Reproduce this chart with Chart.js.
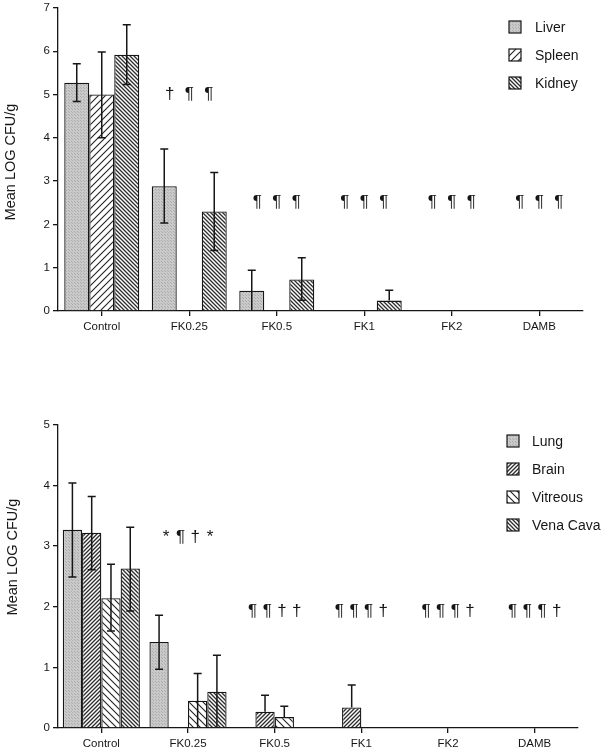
<!DOCTYPE html>
<html>
<head>
<meta charset="utf-8">
<script src="https://cdn.jsdelivr.net/npm/chart.js@4"></script>
<style>
  html, body { margin: 0; padding: 0; background: #fff; }
  body { width: 602px; height: 753px; position: relative; overflow: hidden; }
  canvas { position: absolute; left: 0; }
  #topChart { top: -2px; }
  #bottomChart { top: 415px; }
</style>
</head>
<body>
<canvas id="topChart" width="602" height="344"></canvas>
<canvas id="bottomChart" width="602" height="338"></canvas>
<script>
// categories shared by both panels
const categories = ["Control", "FK0.25", "FK0.5", "FK1", "FK2", "DAMB"];

// upper panel: liver / spleen / kidney
const liver    = [5.27, 2.88, 0.47, 0, 0, 0];
const liverHi  = [5.71, 3.74, 0.94, null, null, null];
const liverLo  = [4.84, 2.03, 0, null, null, null];
const spleen   = [5.00, 0, 0, 0, 0, 0];
const spleenHi = [5.98, null, null, null, null, null];
const spleenLo = [4.00, null, null, null, null, null];
const kidney   = [5.92, 2.30, 0.73, 0.24, 0, 0];
const kidneyHi = [6.61, 3.20, 1.23, 0.48, null, null];
const kidneyLo = [5.23, 1.40, 0.25, null, null, null];

const topMarks = [[], ["†", "¶", "¶"], ["¶", "¶", "¶"], ["¶", "¶", "¶"], ["¶", "¶", "¶"], ["¶", "¶", "¶"]];
const topMarkLevel = [null, 5.0, 2.5, 2.5, 2.5, 2.5];

// lower panel: lung / brain / vitreous / vena cava
const lung       = [3.27, 1.42, 0, 0, 0, 0];
const lungHi     = [4.04, 1.86, null, null, null, null];
const lungLo     = [2.49, 0.97, null, null, null, null];
const brain      = [3.22, 0, 0.27, 0.34, 0, 0];
const brainHi    = [3.82, null, 0.54, 0.71, null, null];
const brainLo    = [2.61, null, null, null, null, null];
const vitreous   = [2.14, 0.45, 0.18, 0, 0, 0];
const vitreousHi = [2.70, 0.90, 0.36, null, null, null];
const vitreousLo = [1.60, 0, null, null, null, null];
const venaCava   = [2.63, 0.60, 0, 0, 0, 0];
const venaCavaHi = [3.31, 1.20, null, null, null, null];
const venaCavaLo = [1.93, 0, null, null, null, null];

const bottomMarks = [[], ["*", "¶", "†", "*"], ["¶", "¶", "†", "†"], ["¶", "¶", "¶", "†"], ["¶", "¶", "¶", "†"], ["¶", "¶", "¶", "†"]];
const bottomMarkLevel = [null, 3.15, 1.92, 1.92, 1.92, 1.92];

const INK = "#161616";
const FONT = "'Liberation Sans', Arial, Helvetica, sans-serif";

// fill patterns
function grayPattern() {
  const c = document.createElement("canvas");
  c.width = 3; c.height = 3;
  const g = c.getContext("2d");
  g.fillStyle = "#c9c9c9";
  g.fillRect(0, 0, 3, 3);
  g.fillStyle = "#acacac";
  g.fillRect(0, 0, 1, 1);
  g.fillRect(2, 2, 1, 1);
  return g.createPattern(c, "repeat");
}

function hatch(size, dir, color, width) {
  const c = document.createElement("canvas");
  c.width = size; c.height = size;
  const g = c.getContext("2d");
  g.fillStyle = "#fff";
  g.fillRect(0, 0, size, size);
  g.strokeStyle = color;
  g.lineWidth = width;
  g.beginPath();
  for (const o of [-size, 0, size]) {
    if (dir === "/") {
      g.moveTo(o - 1, size + 1);
      g.lineTo(o + size + 1, -1);
    } else {
      g.moveTo(o - 1, -1);
      g.lineTo(o + size + 1, size + 1);
    }
  }
  g.stroke();
  return g.createPattern(c, "repeat");
}

const fillGray = grayPattern();
const fillWideFwd = hatch(7, "/", "#222", 1.1);
const fillWideBack = hatch(7, "\\", "#222", 1.1);
const fillDenseBack = hatch(4, "\\", "#2e2e2e", 1.35);
const fillDenseFwd = hatch(4, "/", "#2e2e2e", 1.35);

// error bars
const errorBars = {
  id: "errorBars",
  afterDatasetsDraw(chart) {
    const ctx = chart.ctx;
    const y = chart.scales.y;
    ctx.save();
    ctx.strokeStyle = INK;
    ctx.lineWidth = 1.5;
    chart.data.datasets.forEach((ds, i) => {
      const meta = chart.getDatasetMeta(i);
      ds.errHi.forEach((hi, j) => {
        if (hi == null) return;
        const x = meta.data[j].x;
        const lo = ds.errLo[j];
        const yHi = y.getPixelForValue(hi);
        const yLo = y.getPixelForValue(lo == null ? ds.data[j] : lo);
        ctx.beginPath();
        ctx.moveTo(x, yLo);
        ctx.lineTo(x, yHi);
        ctx.moveTo(x - 4, yHi);
        ctx.lineTo(x + 4, yHi);
        if (lo != null && lo > 0) {
          ctx.moveTo(x - 4, yLo);
          ctx.lineTo(x + 4, yLo);
        }
        ctx.stroke();
      });
    });
    ctx.restore();
  }
};

// significance symbols above each group
const sigMarks = {
  id: "sigMarks",
  afterDatasetsDraw(chart, args, opts) {
    const ctx = chart.ctx;
    const xs = chart.scales.x, ys = chart.scales.y;
    ctx.save();
    ctx.fillStyle = INK;
    ctx.font = "17px " + FONT;
    ctx.textAlign = "center";
    ctx.textBaseline = "middle";
    opts.marks.forEach((row, j) => {
      if (opts.level[j] == null) return;
      const cx = xs.getPixelForValue(j);
      const py = ys.getPixelForValue(opts.level[j]);
      row.forEach((s, i) => {
        const bx = chart.getDatasetMeta(i).data[j].x;
        ctx.fillText(s, cx + (bx - cx) * opts.squeeze, py);
      });
    });
    ctx.restore();
  }
};

// legend inside plot, top right
const boxLegend = {
  id: "boxLegend",
  afterDraw(chart, args, opts) {
    const ctx = chart.ctx;
    ctx.save();
    chart.data.datasets.forEach((ds, i) => {
      const cy = opts.y + i * opts.gap;
      ctx.fillStyle = ds.backgroundColor;
      ctx.fillRect(opts.x, cy - 6, 12, 12);
      ctx.strokeStyle = INK;
      ctx.lineWidth = 1.2;
      ctx.strokeRect(opts.x, cy - 6, 12, 12);
      ctx.fillStyle = INK;
      ctx.font = "14px " + FONT;
      ctx.textAlign = "left";
      ctx.textBaseline = "middle";
      ctx.fillText(ds.label, opts.x + opts.textGap, cy + 1);
    });
    ctx.restore();
  }
};

// rotated y title at a fixed spot
const yTitle = {
  id: "yTitle",
  afterDraw(chart, args, opts) {
    const ctx = chart.ctx;
    ctx.save();
    ctx.translate(opts.x, opts.y);
    ctx.rotate(-Math.PI / 2);
    ctx.fillStyle = INK;
    ctx.font = "14.5px " + FONT;
    ctx.textAlign = "center";
    ctx.textBaseline = "middle";
    ctx.fillText("Mean LOG CFU/g", 0, 0);
    ctx.restore();
  }
};

function makeDataset(label, data, hi, lo, fill) {
  return {
    label: label,
    data: data,
    errHi: hi,
    errLo: lo,
    backgroundColor: fill,
    borderColor: INK,
    borderWidth: 1.3,
    borderSkipped: "start"
  };
}

function baseOptions(yMax, xAxisHeight, padRight, catPct) {
  return {
    responsive: false,
    animation: false,
    devicePixelRatio: 1,
    layout: { padding: { left: 0, right: padRight, top: 0, bottom: 0 } },
    datasets: { bar: { categoryPercentage: catPct, barPercentage: 1.0 } },
    plugins: { legend: { display: false }, tooltip: { enabled: false } },
    scales: {
      x: {
        offset: true,
        grid: { offset: false, drawOnChartArea: false, tickLength: 5, color: INK, lineWidth: 1.3 },
        border: { color: INK, width: 1.3 },
        ticks: { color: INK, font: { size: 11.5, family: FONT }, padding: 4 },
        afterFit(s) { s.height = xAxisHeight; }
      },
      y: {
        min: 0,
        max: yMax,
        grid: { drawOnChartArea: false, tickLength: 5, color: INK, lineWidth: 1.3 },
        border: { color: INK, width: 1.3 },
        ticks: { stepSize: 1, color: INK, font: { size: 11.5, family: FONT }, padding: 3 },
        afterFit(s) { s.width = 58; }
      }
    }
  };
}

const topOpts = baseOptions(7, 31, 19, 0.857);
topOpts.plugins.sigMarks = { marks: topMarks, level: topMarkLevel, squeeze: 0.78 };
topOpts.plugins.boxLegend = { x: 509, y: 29, gap: 28, textGap: 26 };
topOpts.plugins.yTitle = { x: 11, y: 164 };

new Chart(document.getElementById("topChart"), {
  type: "bar",
  data: {
    labels: categories,
    datasets: [
      makeDataset("Liver", liver, liverHi, liverLo, fillGray),
      makeDataset("Spleen", spleen, spleenHi, spleenLo, fillWideFwd),
      makeDataset("Kidney", kidney, kidneyHi, kidneyLo, fillDenseBack)
    ]
  },
  options: topOpts,
  plugins: [errorBars, sigMarks, boxLegend, yTitle]
});

const bottomOpts = baseOptions(5, 25, 24, 0.89);
bottomOpts.plugins.sigMarks = { marks: bottomMarks, level: bottomMarkLevel, squeeze: 0.76 };
bottomOpts.plugins.boxLegend = { x: 507, y: 26, gap: 28, textGap: 25 };
bottomOpts.plugins.yTitle = { x: 12.5, y: 142 };

new Chart(document.getElementById("bottomChart"), {
  type: "bar",
  data: {
    labels: categories,
    datasets: [
      makeDataset("Lung", lung, lungHi, lungLo, fillGray),
      makeDataset("Brain", brain, brainHi, brainLo, fillDenseFwd),
      makeDataset("Vitreous", vitreous, vitreousHi, vitreousLo, fillWideBack),
      makeDataset("Vena Cava", venaCava, venaCavaHi, venaCavaLo, fillDenseBack)
    ]
  },
  options: bottomOpts,
  plugins: [errorBars, sigMarks, boxLegend, yTitle]
});
</script>
</body>
</html>
